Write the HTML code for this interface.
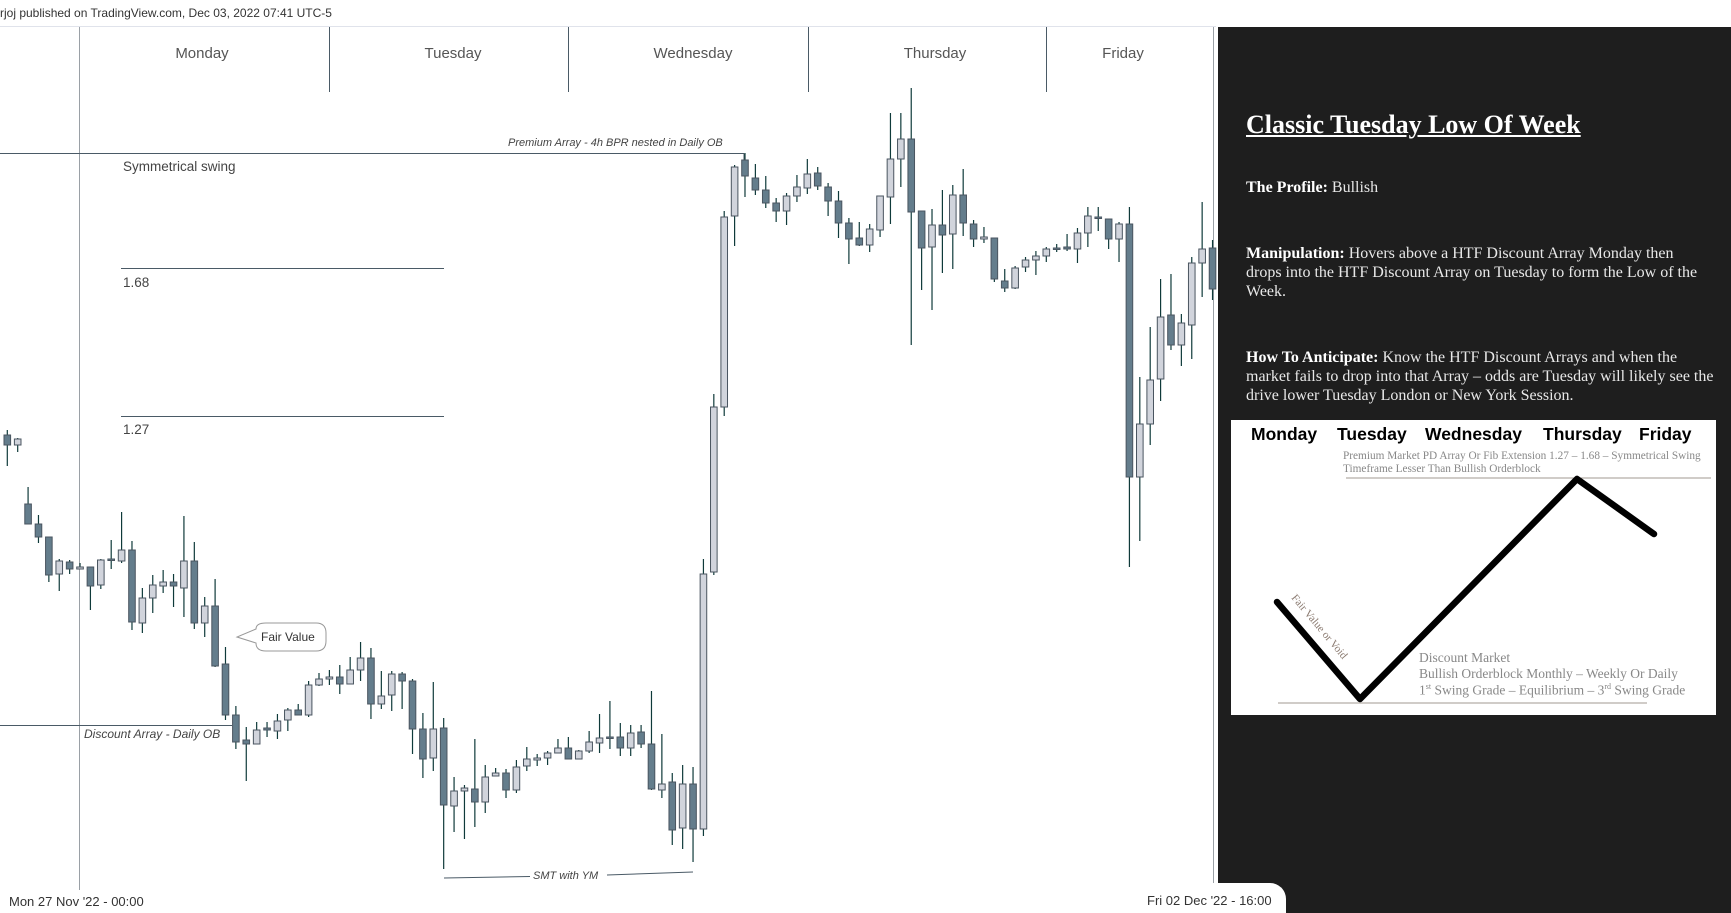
<!DOCTYPE html>
<html><head><meta charset="utf-8">
<style>
body{margin:0;width:1731px;height:913px;overflow:hidden;background:#fff;position:relative;font-family:"Liberation Sans",sans-serif;}
.abs{position:absolute;white-space:nowrap;}
.day{position:absolute;top:45px;font-size:15px;color:#555;transform:translateX(-50%);}
.pl{position:absolute;left:1246px;font-family:"Liberation Serif",serif;font-size:16px;color:#e8e8e8;white-space:nowrap;}
.pl b{color:#fff;}
.wh{position:absolute;font-weight:bold;font-size:17.5px;color:#000;top:424px;}
.gt{position:absolute;font-family:"Liberation Serif",serif;color:#888;white-space:nowrap;}
</style></head><body>
<div class="abs" style="left:0;top:6px;font-size:12px;color:#333;">rjoj published on TradingView.com, Dec 03, 2022 07:41 UTC-5</div>
<svg id="chart" width="1731" height="913" style="position:absolute;left:0;top:0;">
  <line x1="0" y1="26.5" x2="1216" y2="26.5" stroke="#e0e3eb" stroke-width="1"/>
  <line x1="79.5" y1="27" x2="79.5" y2="890" stroke="#9aa0a6" stroke-width="1"/>
  <g stroke="#4a5a66" stroke-width="1">
    <line x1="329.5" y1="27" x2="329.5" y2="92"/>
    <line x1="568.5" y1="27" x2="568.5" y2="92"/>
    <line x1="808.5" y1="27" x2="808.5" y2="92"/>
    <line x1="1046.5" y1="27" x2="1046.5" y2="92"/>
  </g>
  <line x1="1213.5" y1="27" x2="1213.5" y2="890" stroke="#9aa0a6" stroke-width="1"/>
  <line x1="0" y1="153.5" x2="744" y2="153.5" stroke="#4a5a66" stroke-width="1"/>
  <line x1="744" y1="153.5" x2="744" y2="160" stroke="#4a5a66" stroke-width="1"/>
  <text x="508" y="146" font-size="11" font-style="italic" fill="#444">Premium Array - 4h BPR nested in Daily OB</text>
  <text x="123" y="171" font-size="13.5" fill="#444">Symmetrical swing</text>
  <line x1="121" y1="268.5" x2="444" y2="268.5" stroke="#4a5a66" stroke-width="1"/>
  <text x="123" y="287" font-size="13.5" fill="#444">1.68</text>
  <line x1="121" y1="416.5" x2="444" y2="416.5" stroke="#4a5a66" stroke-width="1"/>
  <text x="123" y="434" font-size="13.5" fill="#444">1.27</text>
  <line x1="0" y1="725.5" x2="232" y2="725.5" stroke="#4a5a66" stroke-width="1"/>
  <text x="84" y="738" font-size="12" font-style="italic" fill="#444">Discount Array - Daily OB</text>
  <path d="M266,623 H316 Q326,623 326,633 V641 Q326,651 316,651 H266 Q256,651 256,643 L237,637 L256,629 Q256,623 266,623 Z" fill="#fff" stroke="#999" stroke-width="1"/>
  <text x="261" y="641" font-size="12" fill="#333">Fair Value</text>
  <line x1="444" y1="878" x2="530" y2="876.5" stroke="#4a5a66" stroke-width="1"/>
  <line x1="607" y1="875" x2="693" y2="872" stroke="#4a5a66" stroke-width="1"/>
  <text x="533" y="879" font-size="11" font-style="italic" fill="#444">SMT with YM</text>
  <g id="candles"></g>
  <text x="9" y="906" font-size="13" fill="#333">Mon 27 Nov '22 - 00:00</text>
</svg>
<div class="day" style="left:202px">Monday</div>
<div class="day" style="left:453px">Tuesday</div>
<div class="day" style="left:693px">Wednesday</div>
<div class="day" style="left:935px">Thursday</div>
<div class="day" style="left:1123px">Friday</div>

<div style="position:absolute;left:1218px;top:27px;width:513px;height:886px;background:#1e1e1e;">
</div>
<div style="position:absolute;left:1140px;top:883px;width:146px;height:30px;background:#fff;border-top-right-radius:16px;"></div>
<div class="abs" style="left:1147px;top:893px;font-size:13px;color:#333;">Fri 02 Dec '22 - 16:00</div>

<div class="pl" style="top:110px;font-size:26px;font-weight:bold;color:#fff;text-decoration:underline;">Classic Tuesday Low Of Week</div>
<div class="pl" style="top:179px;"><b>The Profile:</b> Bullish</div>
<div class="pl" style="top:245px;"><b>Manipulation:</b> Hovers above a HTF Discount Array Monday then</div>
<div class="pl" style="top:264px;">drops into the HTF Discount Array on Tuesday to form the Low of the</div>
<div class="pl" style="top:283px;">Week.</div>
<div class="pl" style="top:349px;"><b>How To Anticipate:</b> Know the HTF Discount Arrays and when the</div>
<div class="pl" style="top:368px;">market fails to drop into that Array – odds are Tuesday will likely see the</div>
<div class="pl" style="top:387px;">drive lower Tuesday London or New York Session.</div>

<div style="position:absolute;left:1231px;top:420px;width:485px;height:295px;background:#fff;"></div>
<div class="wh" style="left:1251px">Monday</div>
<div class="wh" style="left:1337px">Tuesday</div>
<div class="wh" style="left:1425px">Wednesday</div>
<div class="wh" style="left:1543px">Thursday</div>
<div class="wh" style="left:1639px">Friday</div>
<div class="gt" style="left:1343px;top:450px;font-size:11.3px;">Premium Market PD Array Or Fib Extension 1.27 – 1.68 – Symmetrical Swing</div>
<div class="gt" style="left:1343px;top:463px;font-size:11.3px;">Timeframe Lesser Than Bullish Orderblock</div>
<div class="gt" style="left:1419px;top:650px;font-size:13.5px;">Discount Market</div>
<div class="gt" style="left:1419px;top:666px;font-size:13.5px;">Bullish Orderblock Monthly – Weekly Or Daily</div>
<div class="gt" style="left:1419px;top:682px;font-size:13.5px;">1<sup style="font-size:8px">st</sup> Swing Grade – Equilibrium – 3<sup style="font-size:8px">rd</sup> Swing Grade</div>
<svg width="1731" height="913" style="position:absolute;left:0;top:0;pointer-events:none;">
  <line x1="1346" y1="478" x2="1711" y2="478" stroke="#a09890" stroke-width="1"/>
  <line x1="1278" y1="703" x2="1647" y2="703" stroke="#a09890" stroke-width="1"/>
  <polyline points="1277,602 1360,699 1577,479 1654,534" fill="none" stroke="#000" stroke-width="6.5" stroke-linejoin="round" stroke-linecap="round"/>
  <text x="0" y="0" font-family="Liberation Serif,serif" font-size="11" fill="#8a7a70" transform="translate(1291,598) rotate(50)">Fair Value or Void</text>
</svg>

<script>
const opens  = [565,555,496,476,463,426,438,431,433,415,441,439,450,377,402,414,418,412,439,377,394,336,285,260,256,272,269,280,290,285,315,321,323,316,330,342,296,305,326,319,271,242,272,194,209,211,198,224,227,210,234,240,242,247,252,241,249,257,263,263,252,268,256,210,218,172,216,171,428,593,784,840,822,810,797,789,804,812,827,813,799,777,762,755,770,803,841,861,789,753,775,766,805,776,761,762,719,712,733,740,744,752,753,751,767,783,781,761,776,523,576,621,685,655,675,737,752];
const highs  = [570,562,513,485,463,441,440,437,433,441,460,488,459,412,425,430,426,484,458,403,421,353,294,273,278,278,286,292,296,319,327,330,335,343,358,352,329,329,328,321,287,318,282,223,215,261,235,232,231,240,253,246,249,261,263,250,269,286,299,277,275,275,309,266,227,235,233,441,606,789,835,847,836,824,802,807,825,841,833,817,809,782,778,776,804,887,887,912,789,791,810,815,831,780,773,762,731,734,743,749,753,756,766,772,793,793,781,778,793,623,673,721,726,686,743,798,760];
const lows   = [534,548,476,457,418,409,426,431,390,411,431,437,370,367,387,407,393,383,371,363,333,280,251,219,256,263,261,269,285,283,314,315,306,316,319,281,291,289,291,246,222,229,131,168,161,173,187,224,202,207,229,234,235,247,241,241,247,247,251,244,244,252,210,202,155,151,138,164,425,584,754,803,805,792,778,775,798,806,810,784,762,736,754,748,763,776,813,655,710,690,727,731,764,753,757,718,708,711,728,725,738,748,749,737,753,769,751,738,433,459,555,599,650,634,641,703,700];
const closes = [555,561,476,463,425,439,431,433,414,440,440,450,378,402,415,418,414,439,377,394,334,285,258,256,270,270,279,290,285,315,321,323,316,330,342,296,304,326,319,271,241,271,195,209,212,198,223,227,210,233,241,242,247,252,241,249,258,262,262,252,267,256,211,216,170,216,171,426,593,783,833,824,810,797,789,804,813,826,814,799,777,761,755,771,804,841,861,788,752,775,765,805,777,761,763,721,712,732,740,744,751,751,751,767,784,782,761,776,523,576,620,683,655,677,737,751,711];

const xScale = i => 7.3 + 10.39 * i;
const yScale = p => 1000 - p;
const g = document.getElementById('candles');
const NS = 'http://www.w3.org/2000/svg';
for (let i = 0; i < opens.length; i++) {
  const x = xScale(i);
  const up = closes[i] >= opens[i];
  const wick = document.createElementNS(NS, 'line');
  
  
  wick.setAttribute('x1', x); wick.setAttribute('x2', x);
  wick.setAttribute('y1', yScale(highs[i])); wick.setAttribute('y2', yScale(lows[i]));
  wick.setAttribute('stroke', '#0f3a3a'); wick.setAttribute('stroke-width', '1.2');
  g.appendChild(wick);
  const top = yScale(Math.max(opens[i], closes[i]));
  const h = Math.max(1.5, Math.abs(opens[i] - closes[i]));
  const body = document.createElementNS(NS, 'rect');
  
  
  body.setAttribute('x', x - 3.3); body.setAttribute('y', top);
  body.setAttribute('width', 6.6); body.setAttribute('height', h);
  body.setAttribute('fill', up ? '#d1d4dc' : '#647d8c');
  body.setAttribute('stroke', '#4a5560'); body.setAttribute('stroke-width', '1');
  g.appendChild(body);
}
</script>
</body></html>
